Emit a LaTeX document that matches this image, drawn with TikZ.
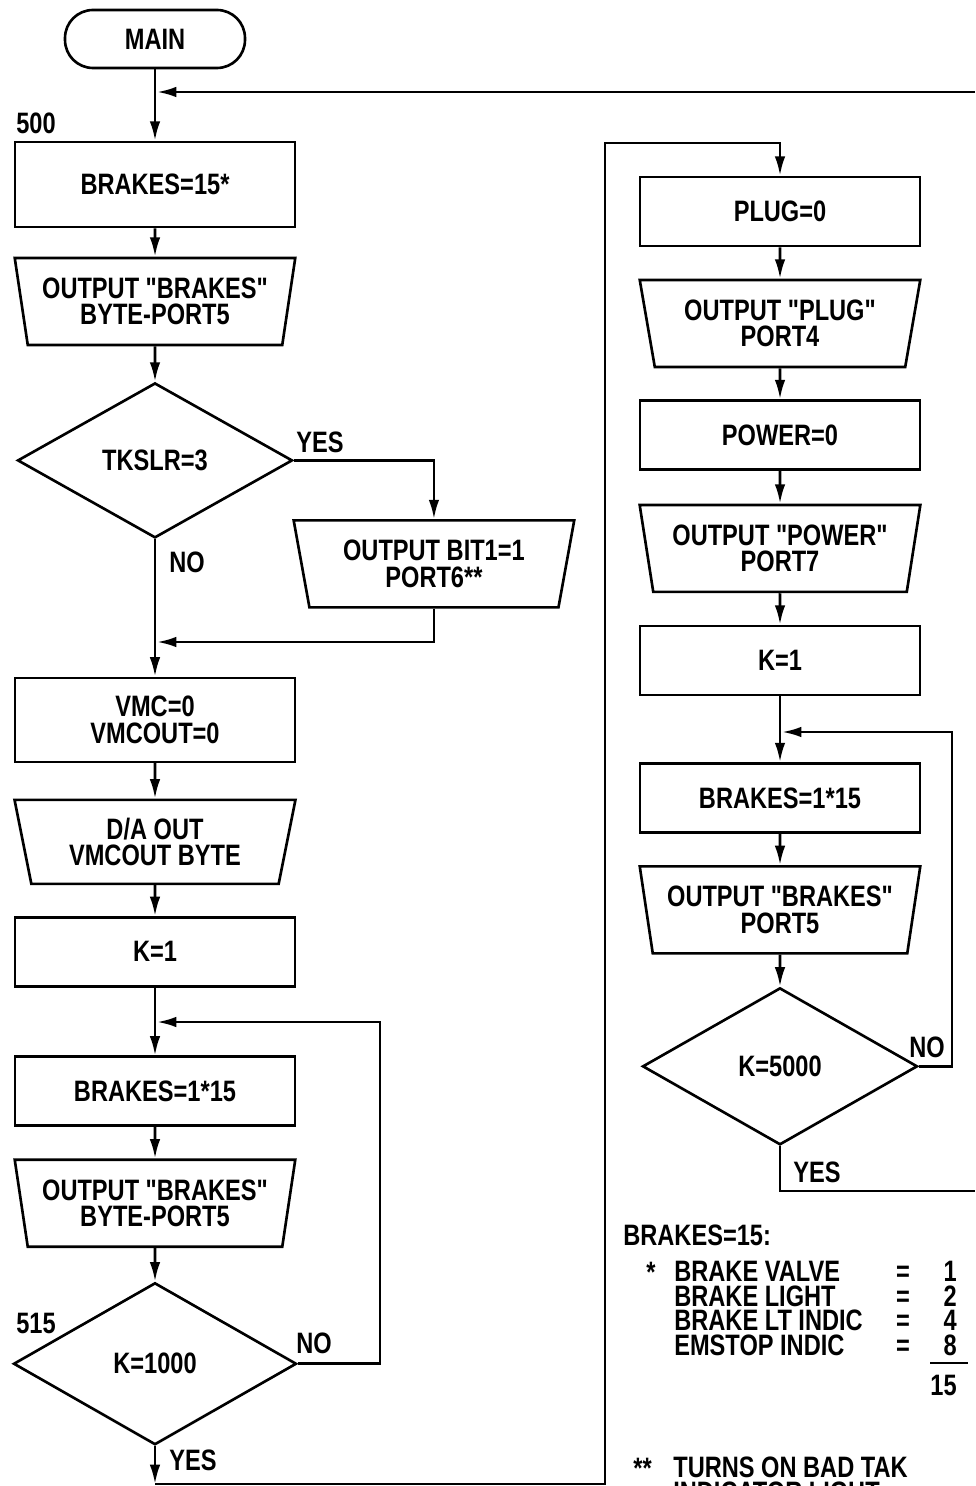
\documentclass[tikz,border=0pt]{standalone}
\usepackage{fontspec}
\setmainfont{Liberation Sans}[FakeStretch=0.8, Ligatures=TeXOff]
\usetikzlibrary{shapes.geometric, arrows.meta}
\usetikzlibrary{positioning}

\begin{document}
\begin{tikzpicture}[x=0.02cm,y=-0.02cm,->,>={Latex[length=11pt,width=6pt]},line width=1.5pt,
		font=\fontsize{16.8}{15}\selectfont\bfseries]
			\tikzstyle{box}=[rectangle,draw,minimum width=5.6cm,minimum height=1.38cm,align=center,inner sep=1pt]
			\tikzstyle{io}=[trapezium,draw,trapezium angle=77,shape border rotate=180,trapezium stretches=true,minimum width=5.62cm,minimum height=1.74cm,align=center,inner sep=1pt]
			\tikzstyle{dec}=[diamond,draw,aspect=1.77,inner sep=0pt,minimum width=5.5cm,minimum height=3.1cm]
			\tikzstyle{term}=[rectangle,rounded corners=0.56cm,draw,minimum width=3.6cm,minimum height=1.16cm]
			\tikzstyle{lbl}=[anchor=base west,inner sep=0pt]
			\tikzstyle{keytxt}=[inner sep=0pt,font=\fontsize{16.8}{13.95}\selectfont\bfseries]
			\useasboundingbox (0,0) rectangle (975,1486);
			% left column
			\node[term]  (main)  at (155,39)                                   {MAIN};
			\node[box]   (b500)[below of=main, node distance=2.91cm, minimum height=1.7cm] {BRAKES=15*};
			\node[io]    (o1)[below of=b500, node distance=2.34cm]            {OUTPUT "BRAKES"\\BYTE-PORT5};
			\node[dec]   (d1)[below of=o1, node distance=3.18cm]              {TKSLR=3};
			\node[io]    (o2)[right of=d1, node distance=5.58cm, yshift=-2.07cm] {OUTPUT BIT1=1\\PORT6**};
			\node[box]   (vmc)[below of=d1, node distance=5.19cm, minimum height=1.68cm] {VMC=0\\VMCOUT=0};
			\node[io]    (da)[below of=vmc, node distance=2.44cm, minimum height=1.68cm] {D/A OUT\\VMCOUT BYTE};
			\node[box]   (k1)[below of=da, node distance=2.2cm]               {K=1};
			\node[box]   (b1)[below of=k1, node distance=2.79cm]              {BRAKES=1*15};
			\node[io]    (o3)[below of=b1, node distance=2.24cm]              {OUTPUT "BRAKES"\\BYTE-PORT5};
			\node[dec]   (d2)[below of=o3, node distance=3.21cm, minimum width=5.66cm, minimum height=3.24cm] {K=1000};
			% right column
			\node[box]   (plug)  at (780,211.5)                               {PLUG=0};
			\node[io]    (o5)[below of=plug, node distance=2.24cm]            {OUTPUT "PLUG"\\PORT4};
			\node[box]   (pow)[below of=o5, node distance=2.23cm]             {POWER=0};
			\node[io]    (o6)[below of=pow, node distance=2.27cm]             {OUTPUT "POWER"\\PORT7};
			\node[box]   (k2)[below of=o6, node distance=2.24cm]              {K=1};
			\node[box]   (b2)[below of=k2, node distance=2.75cm]              {BRAKES=1*15};
			\node[io]    (o7)[below of=b2, node distance=2.24cm]              {OUTPUT "BRAKES"\\PORT5};
			\node[dec]   (d3)[below of=o7, node distance=3.13cm, minimum height=3.14cm] {K=5000};
			% joins and page edges
			\coordinate (j0) at (157,92);
			\coordinate (e1) at (975,92);
			\coordinate (j1) at (157,642);
			\coordinate (c2) at (380,1022);
			\coordinate (j2) at (157,1022);
			\coordinate (c3) at (952,732);
			\coordinate (j3) at (782,732);
			\coordinate (e2) at (975,1191);
			\coordinate (e3) at (155,1484);
			\coordinate (e4) at (605,1484);
			\coordinate (c4) at (780,143);
			\path
			(main) edge (b500)
			(b500) edge (o1)
			(o1)   edge (d1)
			(d1)   edge (vmc)
			(vmc)  edge (da)
			(da)   edge (k1)
			(k1)   edge (b1)
			(b1)   edge (o3)
			(o3)   edge (d2)
			(plug) edge (o5)
			(o5)   edge (pow)
			(pow)  edge (o6)
			(o6)   edge (k2)
			(k2)   edge (b2)
			(b2)   edge (o7)
			(o7)   edge (d3);
			\draw (d1.east) -| (o2);
			\draw (o2) |- (j1);
			\draw (d2.east) -| (c2) -- (j2);
			\draw (d3.east) -| (c3) -- (j3);
			\draw[-] (d3.south) |- (e2);
			\draw (e1) -- (j0);
			\draw (d2.south) -- (e3);
			\draw (e3) -- (e4) |- (c4) -- (plug);
			% labels
			\node[lbl] (n500) at (15,134)  {500};
			\node[lbl] (n515) at (15,1333) {515};
			\node[lbl] (y1)   at (295,452) {YES};
			\node[lbl] (n1)   at (168,572) {NO};
			\node[lbl] (n2)   at (295,1353) {NO};
			\node[lbl] (y2)   at (168,1470) {YES};
			\node[lbl] (n3)   at (908,1057) {NO};
			\node[lbl] (y3)   at (792,1182) {YES};
			% key
			\node[lbl] (key)  at (622,1245) {BRAKES=15:};
			\node[lbl] (st1)  at (645,1282) {*};
			\node[keytxt,anchor=base west,align=left] (kt) at (673,1355.4)
				{BRAKE VALVE\\BRAKE LIGHT\\BRAKE LT INDIC\\EMSTOP INDIC};
			\node[keytxt,anchor=base,align=center] (ke) at (903,1355.4) {=\\=\\=\\=};
			\node[keytxt,anchor=base east,align=right] (kv) at (958,1355.4) {1\\2\\4\\8};
			\draw[-,line width=1pt] (930,1363) -- (968,1363);
			\node[anchor=base east,inner sep=0pt] (tot) at (958,1395) {15};
			\node[lbl] (st2)  at (632,1478) {**};
			\node[keytxt,anchor=base west,align=left] (nt) at (672,1502)
				{TURNS ON BAD TAK\\INDICATOR LIGHT};
		\end{tikzpicture}
\end{document}
